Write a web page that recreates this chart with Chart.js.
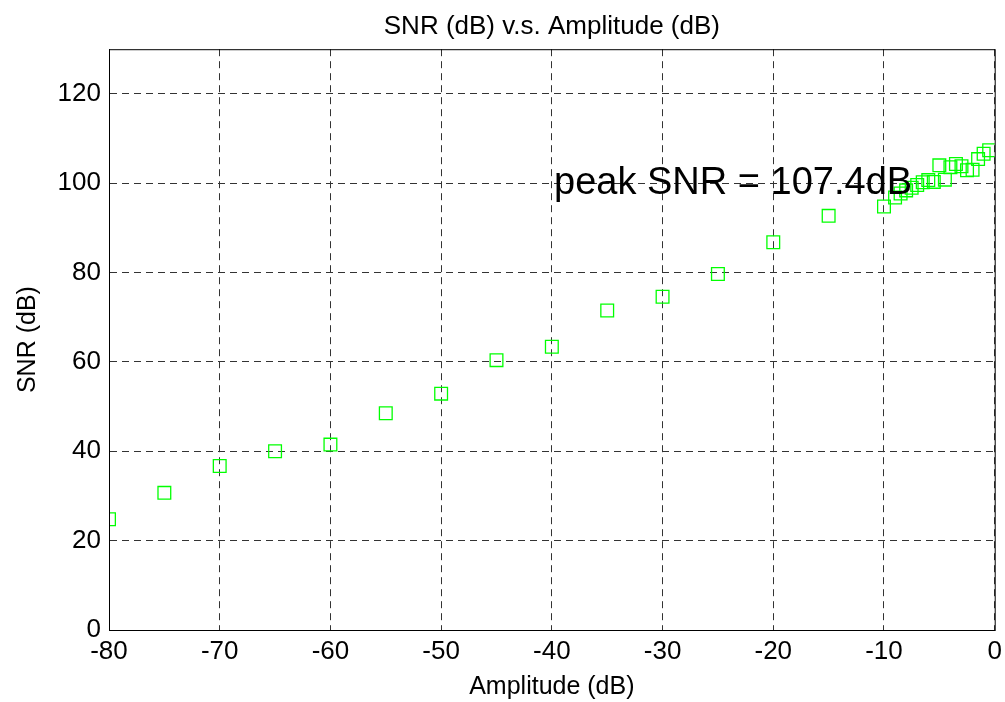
<!DOCTYPE html>
<html>
<head>
<meta charset="utf-8">
<script src="https://cdn.jsdelivr.net/npm/chart.js@4.4.1/dist/chart.umd.min.js"></script>
<style>
  html, body { margin: 0; padding: 0; background: #fff; }
  #wrap { width: 1005px; height: 702px; }
</style>
</head>
<body>
<div id="wrap"><canvas id="snrChart" width="1005" height="702"></canvas></div>
<script>
// amplitude (dB) and measured SNR (dB)
var amplitude = [-80, -75, -70, -65, -60, -55, -50, -45, -40, -35, -30, -25, -20, -15,
                 -10, -9, -8.5, -8, -7.5, -7, -6.5, -6, -5.5, -5, -4.5, -4, -3.5, -3,
                 -2.5, -2, -1.5, -1, -0.5];
var snr = [24.8, 30.7, 36.7, 40.0, 41.5, 48.5, 52.9, 60.4, 63.4, 71.5, 74.6, 79.7, 86.8, 92.7,
           94.8, 96.8, 97.7, 98.4, 99.0, 99.6, 100.2, 100.7, 100.3, 104.0, 100.8, 103.6, 104.3, 103.8,
           102.9, 103.0, 105.4, 106.6, 107.4];
var xTicks = [-80, -70, -60, -50, -40, -30, -20, -10, 0];
var yTicks = [0, 20, 40, 60, 80, 100, 120];
var peakText = 'peak SNR = 107.4dB';

var points = [];
for (var i in amplitude) {
    points.push({ x: amplitude[i], y: snr[i] });
}

var fontName = '"Liberation Sans", Arial, sans-serif';

// box round the axes + annotation text
var boxPlugin = {
    id: 'boxPlugin',
    afterDraw: function(chart) {
        var ctx = chart.ctx;
        var a = chart.chartArea;
        ctx.save();
        ctx.strokeStyle = '#000';
        ctx.lineWidth = 1;
        ctx.strokeRect(a.left + 0.5, a.top + 0.5, a.right - a.left, a.bottom - a.top);
        var xs = chart.scales.x, ys = chart.scales.y;
        ctx.fillStyle = '#000';
        ctx.font = '38px ' + fontName;
        ctx.textAlign = 'left';
        ctx.textBaseline = 'middle';
        ctx.fillText(peakText, xs.getPixelForValue(-39.8), ys.getPixelForValue(100));
        ctx.restore();
    }
};

var gridStyle = {
    color: '#333',
    lineWidth: 1,
    drawTicks: false
};

new Chart(document.getElementById('snrChart'), {
    type: 'scatter',
    data: {
        datasets: [{
            label: 'SNR',
            data: points,
            pointStyle: 'rect',
            pointRadius: 9,
            pointHoverRadius: 9,
            pointBorderWidth: 1.3,
            borderColor: 'rgb(0, 255, 0)',
            backgroundColor: 'rgba(0,0,0,0)',
            showLine: false
        }]
    },
    options: {
        responsive: false,
        animation: false,
        events: [],
        layout: { padding: { right: 7, left: 0, top: 0, bottom: 0 } },
        plugins: {
            legend: { display: false },
            tooltip: { enabled: false },
            title: {
                display: true,
                fullSize: false,
                text: 'SNR (dB) v.s. Amplitude (dB)',
                color: '#000',
                font: { family: fontName, size: 26, weight: 'normal' },
                padding: { top: 11, bottom: 7 }
            }
        },
        scales: {
            x: {
                type: 'linear',
                min: -80,
                max: 0,
                afterBuildTicks: function(scale) {
                    scale.ticks = xTicks.map(function(v) { return { value: v }; });
                },
                afterFit: function(scale) {
                    scale.height = 72;
                    scale.paddingLeft = 0;
                    scale.paddingRight = 0;
                },
                grid: gridStyle,
                border: { display: true, color: '#000', dash: [7, 5] },
                ticks: {
                    color: '#000',
                    padding: 6,
                    maxRotation: 0,
                    font: { family: fontName, size: 26 }
                },
                title: {
                    display: true,
                    text: 'Amplitude (dB)',
                    color: '#000',
                    font: { family: fontName, size: 25 },
                    padding: { top: 0, bottom: 0 }
                }
            },
            y: {
                type: 'linear',
                min: 0,
                max: 130,
                afterBuildTicks: function(scale) {
                    scale.ticks = yTicks.map(function(v) { return { value: v }; });
                },
                afterFit: function(scale) {
                    scale.width = 109;
                    scale.paddingTop = 0;
                    scale.paddingBottom = 0;
                },
                grid: gridStyle,
                border: { display: true, color: '#000', dash: [7, 5] },
                ticks: {
                    color: '#000',
                    padding: 8,
                    font: { family: fontName, size: 26 }
                },
                title: {
                    display: true,
                    text: 'SNR (dB)',
                    color: '#000',
                    font: { family: fontName, size: 25 },
                    padding: { top: 13, bottom: 0 }
                }
            }
        }
    },
    plugins: [boxPlugin]
});
</script>
</body>
</html>
